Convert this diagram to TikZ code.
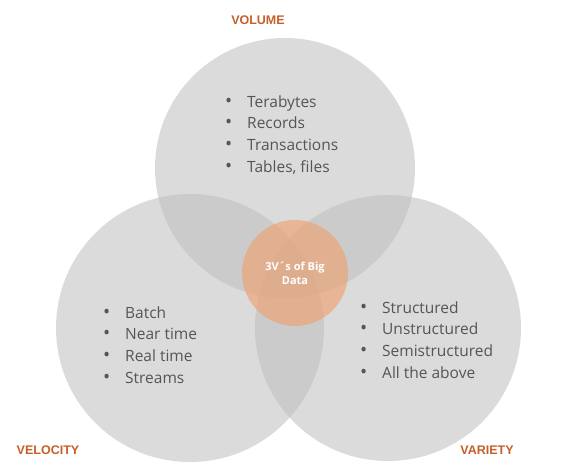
\documentclass[tikz,border=0pt]{standalone}
\usepackage{fontspec}
\setmainfont{Open Sans}
\newfontfamily\labelfont{Liberation Sans}
\begin{document}
\definecolor{ringgray}{RGB}{190,190,190}
\definecolor{coreorange}{RGB}{240,160,110}
\definecolor{vlabel}{RGB}{196,96,40}
\definecolor{itemgray}{RGB}{85,85,85}
\begin{tikzpicture}[x=1pt,y=-1pt,
  vcircle/.style={fill=ringgray,fill opacity=0.54,draw=none},
  corecircle/.style={circle,fill=coreorange,fill opacity=0.62,text opacity=1,draw=none,
    minimum size=106pt,inner sep=0pt,align=center,text=white,
    font=\bfseries\fontsize{11}{14}\selectfont},
  vtitle/.style={text=vlabel,font=\labelfont\bfseries\fontsize{12.5}{14}\selectfont,inner sep=0pt},
  vitem/.style={anchor=base west,inner sep=0pt,text=itemgray,font=\fontsize{15.5}{18}\selectfont}]
\useasboundingbox[fill=white] (0,0) rectangle (580,468);

% three overlapping V circles
\fill[vcircle] (285,168) circle (130);
\fill[vcircle] (190,328) circle (134);
\fill[vcircle] (388,328) circle (133);

% centre circle
\node[corecircle] (core) at (295,273) {3V´s of Big\\Data};

% circle titles
\node[vtitle] (volume) at (258,20) {VOLUME};
\node[vtitle] (velocity) at (48,450) {VELOCITY};
\node[vtitle] (variety) at (487,450) {VARIETY};

% item lists
\newcommand{\vbul}[1]{\makebox[21pt][l]{\hspace{-1pt}\fontsize{19}{18}\selectfont•}#1}
\foreach \t [count=\i] in {Terabytes,Records,Transactions,{Tables, files}}
  \node[vitem] (vol\i) at (226,{107+21.7*(\i-1)}) {\vbul{\t}};
\foreach \t [count=\i] in {Batch,Near time,Real time,Streams}
  \node[vitem] (vel\i) at (104,{318+21.7*(\i-1)}) {\vbul{\t}};
\foreach \t [count=\i] in {Structured,Unstructured,Semistructured,All the above}
  \node[vitem] (var\i) at (361,{313+21.7*(\i-1)}) {\vbul{\t}};
\end{tikzpicture}
\end{document}
